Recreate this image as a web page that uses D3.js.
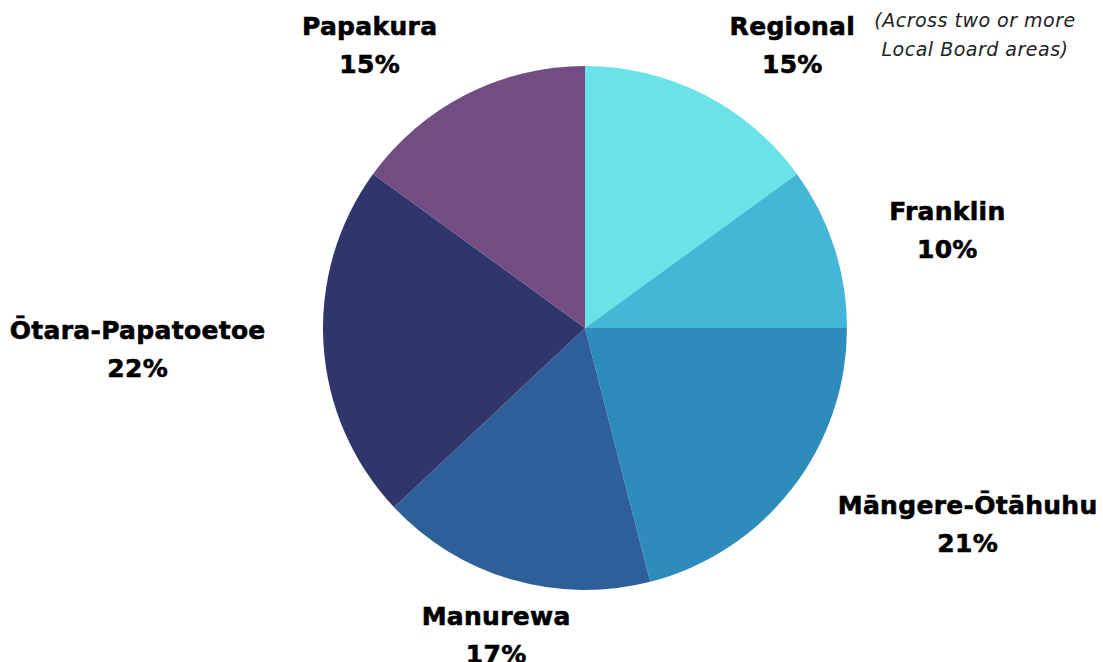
<!DOCTYPE html>
<html>
<head>
<meta charset="utf-8">
<script src="https://cdn.jsdelivr.net/npm/d3@7"></script>
<style>
  body { margin: 0; background: #fff; }
  .lbl { font-family: "DejaVu Sans", sans-serif; font-weight: bold; font-size: 25px; letter-spacing: 0.3px; fill: #000; stroke: #000; stroke-width: 0.6px; }
  .note { font-family: "DejaVu Sans", sans-serif; font-style: italic; font-size: 19px; letter-spacing: 0.5px; fill: #222; }
</style>
</head>
<body>
<div id="chart"></div>
<script>
const boards = ["Regional", "Franklin", "Māngere-Ōtāhuhu", "Manurewa", "Ōtara-Papatoetoe", "Papakura"];
const shares = [15, 10, 21, 17, 22, 15];
const colours = ["#6ae3e8", "#44b6d6", "#2e8cbb", "#2f5f99", "#30356b", "#714d84"];
const noteLines = ["(Across two or more", "Local Board areas)"];

// small nudges so labels sit like the original
const nudges = [[53, 20], [39, 7], [114, -12], [6, -19], [-108, 0], [-61, 20]];

const width = 1103;
const height = 662;
const cx = 585, cy = 328, radius = 262;

const svg = d3.select("#chart").append("svg")
  .attr("width", width)
  .attr("height", height);

const g = svg.append("g").attr("transform", `translate(${cx},${cy})`);

const pie = d3.pie().sort(null).value(d => d.value);
const data = boards.map((b, i) => ({ name: b, value: shares[i] }));
const arcs = pie(data);

const arc = d3.arc().innerRadius(0).outerRadius(radius);
const labelArc = d3.arc().innerRadius(340).outerRadius(340);

const color = d3.scaleOrdinal().domain(boards).range(colours);

g.selectAll("path")
  .data(arcs)
  .enter()
  .append("path")
  .attr("d", arc)
  .attr("fill", d => color(d.data.name));

const labels = g.selectAll(".lbl")
  .data(arcs)
  .enter()
  .append("text")
  .attr("class", "lbl")
  .attr("text-anchor", "middle")
  .attr("transform", (d, i) => {
    const c = labelArc.centroid(d);
    return `translate(${c[0] + nudges[i][0]},${c[1] + nudges[i][1]})`;
  });

labels.append("tspan").attr("x", 0).attr("y", -10).text(d => d.data.name);
labels.append("tspan").attr("x", 0).attr("y", 28).text(d => d.data.value + "%");

// note next to Regional
const note = svg.append("text")
  .attr("class", "note")
  .attr("text-anchor", "middle")
  .attr("transform", "translate(975,27)");
note.selectAll("tspan")
  .data(noteLines)
  .enter()
  .append("tspan")
  .attr("x", 0)
  .attr("y", (d, i) => i * 29)
  .text(d => d);
</script>
</body>
</html>
